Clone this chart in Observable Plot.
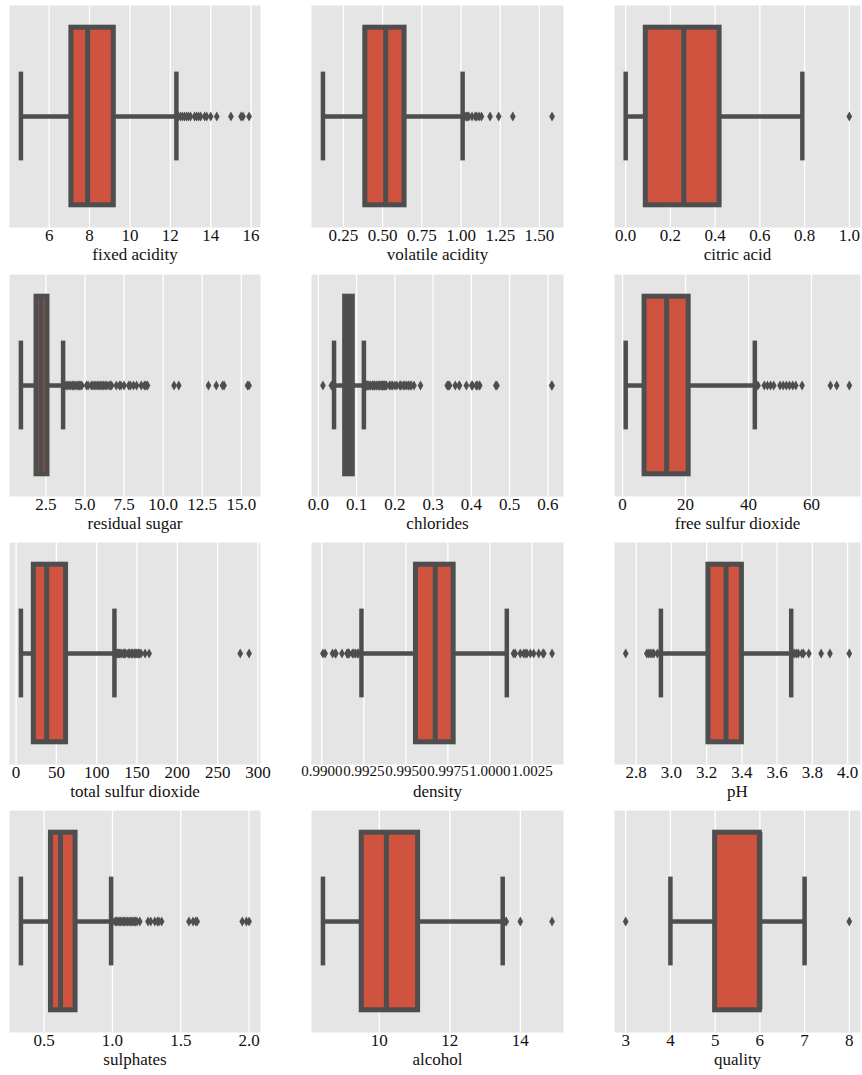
<!DOCTYPE html>
<html><head><meta charset="utf-8">
<script src="https://cdn.jsdelivr.net/npm/d3@7"></script>
<script src="https://cdn.jsdelivr.net/npm/@observablehq/plot@0.6"></script>
<style>
body{margin:0;background:#fff;}
#wrap{position:relative;width:862px;height:1075px;overflow:hidden;background:#fff;}
#wrap svg{position:absolute;overflow:visible;}
</style></head><body><div id="wrap"></div>
<script>
// ---- data ----
const names = ["fixed acidity","volatile acidity","citric acid","residual sugar","chlorides","free sulfur dioxide",
  "total sulfur dioxide","density","pH","sulphates","alcohol","quality"];
const lowWhisker  = [4.6, 0.12, 0.0, 0.9, 0.041, 1, 6, 0.99236, 2.94, 0.33, 8.4, 4];
const q1          = [7.1, 0.39, 0.09, 1.9, 0.07, 7, 22, 0.9956, 3.21, 0.55, 9.5, 5];
const median      = [7.9, 0.52, 0.26, 2.2, 0.079, 14, 38, 0.99675, 3.31, 0.62, 10.2, 6];
const q3          = [9.2, 0.64, 0.42, 2.6, 0.09, 21, 62, 0.99784, 3.40, 0.73, 11.1, 6];
const highWhisker = [12.3, 1.01, 0.79, 3.6, 0.119, 42, 122, 1.0010, 3.68, 0.99, 13.5, 7];
const outliers = [
  [12.4,12.5,12.6,12.7,12.8,12.9,13.0,13.2,13.3,13.4,13.5,13.7,13.8,14.0,14.3,15.0,15.5,15.6,15.9],
  [1.02,1.025,1.035,1.04,1.05,1.07,1.09,1.1,1.115,1.13,1.185,1.24,1.33,1.58],
  [1.0],
  [3.7,3.8,3.9,4.0,4.1,4.2,4.25,4.3,4.4,4.5,4.6,4.65,4.7,4.8,5.1,5.2,5.4,5.5,5.6,5.7,5.8,5.9,6.0,6.1,6.2,6.3,6.4,6.55,6.6,6.7,7.0,7.2,7.3,7.5,7.8,7.9,8.1,8.3,8.6,8.8,8.9,9.0,10.7,11.0,12.9,13.4,13.8,13.9,15.4,15.5],
  [0.012,0.034,0.038,0.039,0.12,0.121,0.122,0.123,0.124,0.125,0.126,0.127,0.128,0.13,0.132,0.136,0.137,0.141,0.143,0.145,0.147,0.148,0.152,0.153,0.157,0.159,0.16,0.161,0.165,0.166,0.168,0.169,0.171,0.172,0.174,0.176,0.178,0.186,0.19,0.194,0.2,0.205,0.213,0.214,0.216,0.222,0.226,0.23,0.235,0.236,0.241,0.243,0.25,0.267,0.337,0.341,0.343,0.358,0.368,0.369,0.387,0.401,0.403,0.413,0.414,0.415,0.421,0.422,0.464,0.467,0.61,0.611],
  [43,45,46,47,48,50,51,52,53,54,55,57,66,68,72],
  [124,125,126,127,128,129,131,133,134,135,136,139,140,141,143,144,145,147,148,149,151,152,153,155,160,165,278,289],
  [0.99007,0.9902,0.99064,0.9908,0.99084,0.9912,0.9915,0.99154,0.9916,0.99162,0.99182,0.99191,0.992,0.99212,0.99217,
   1.0014,1.0015,1.0018,1.002,1.0021,1.0022,1.0024,1.0026,1.0029,1.00315,1.0032,1.00369],
  [2.74,2.86,2.87,2.88,2.89,2.9,2.92,3.69,3.7,3.71,3.72,3.74,3.75,3.78,3.85,3.9,4.01],
  [1.0,1.02,1.03,1.04,1.05,1.06,1.07,1.08,1.09,1.1,1.11,1.12,1.13,1.14,1.15,1.16,1.17,1.18,1.2,1.26,1.28,1.31,1.33,1.34,1.36,1.56,1.59,1.61,1.62,1.95,1.98,2.0],
  [13.56,13.6,14.0,14.9],
  [3,8]
];
const tickValues = [
  [6,8,10,12,14,16],
  [0.25,0.5,0.75,1.0,1.25,1.5],
  [0,0.2,0.4,0.6,0.8,1.0],
  [2.5,5,7.5,10,12.5,15],
  [0,0.1,0.2,0.3,0.4,0.5,0.6],
  [0,20,40,60],
  [0,50,100,150,200,250,300],
  [0.99,0.9925,0.995,0.9975,1.0,1.0025],
  [2.8,3.0,3.2,3.4,3.6,3.8,4.0],
  [0.5,1.0,1.5,2.0],
  [10,12,14],
  [3,4,5,6,7,8]
];
const tickDecimals = [0,2,1,1,1,0,0,4,1,1,0,0];

// ---- layout / style ----
const colX = [9, 311, 614];
const colW = [251, 252, 246];
const rowY = [5, 274, 542, 810];
const H = 222;
const mL = 12, mR = 12, mT = 6, mB = 50;
const RED = "#cf533e", DARK = "#4e4e4e", BG = "#e5e5e5";
const FONT = "'Liberation Serif','Times New Roman',serif";

const wrap = document.getElementById("wrap");
names.forEach((name, i) => {
  const c = i % 3, r = Math.floor(i / 3);
  const W = colW[c];
  const rec = [{lo: lowWhisker[i], q1: q1[i], med: median[i], q3: q3[i], hi: highWhisker[i]}];
  const caps = [{x: lowWhisker[i]}, {x: highWhisker[i]}];
  const outs = outliers[i];
  const all = [lowWhisker[i], highWhisker[i], ...outs];
  const dmin = d3.min(all), dmax = d3.max(all), pad = (dmax - dmin) * 0.05;
  const fmt = d => d.toFixed(tickDecimals[i]);
  const tv = tickValues[i];
  const tickFont = tickDecimals[i] >= 4 ? 15 : 17;
  const chart = Plot.plot({
    width: W + mL + mR, height: H + mT + mB,
    marginLeft: mL, marginRight: mR, marginTop: mT, marginBottom: mB,
    x: {type: "linear", domain: [dmin - pad, dmax + pad]},
    y: {domain: [-0.5, 0.5], axis: null},
    style: {fontFamily: FONT, fontSize: "17px", color: "#111", background: "transparent", overflow: "visible"},
    marks: [
      Plot.frame({fill: BG, stroke: null}),
      Plot.gridX({ticks: tv, stroke: "#fff", strokeOpacity: 1, strokeWidth: 1.3}),
      Plot.ruleY(rec, {y: () => 0, x1: "lo", x2: "hi", stroke: DARK, strokeWidth: 4.5}),
      Plot.ruleX(caps, {x: "x", y1: () => -0.2, y2: () => 0.2, stroke: DARK, strokeWidth: 4.5}),
      Plot.rect(rec, {x1: "q1", x2: "q3", y1: () => -0.4, y2: () => 0.4, fill: RED, stroke: DARK, strokeWidth: 5}),
      Plot.ruleX(rec, {x: "med", y1: () => -0.4, y2: () => 0.4, stroke: DARK, strokeWidth: 5}),
      Plot.dot(outs, {x: d => d, y: () => 0, symbol: "diamond", r: 3, fill: DARK, stroke: null}),
      Plot.axisX({ticks: tv, tickFormat: fmt, tickSize: 0, tickPadding: 1, label: null, fontSize: tickFont}),
      Plot.text([name], {frameAnchor: "bottom", dy: 32, text: d => d, fontSize: 17, fill: "#111"})
    ]
  });
  chart.style.left = (colX[c] - mL) + "px";
  chart.style.top = (rowY[r] - mT) + "px";
  wrap.appendChild(chart);
});
</script>
</body></html>
